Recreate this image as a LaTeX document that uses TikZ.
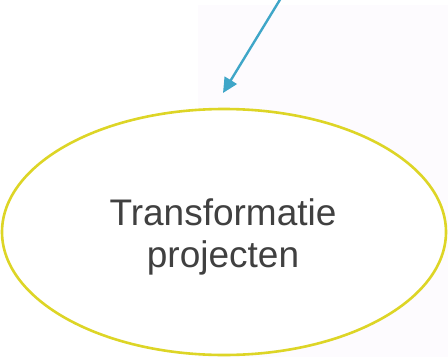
\documentclass[tikz,border=0pt]{standalone}
\usepackage{fontspec}
\setmainfont{Liberation Sans}
\usetikzlibrary{arrows.meta,shapes.geometric}
\definecolor{bgpink}{HTML}{FDFBFE}
\definecolor{ellyellow}{HTML}{DDD526}
\definecolor{arrowblue}{HTML}{3FA6C8}
\definecolor{txtgray}{HTML}{404040}
\tikzset{
  bubble/.style={draw=ellyellow, line width=2.6pt, fill=white, ellipse, minimum width=444pt, minimum height=246pt, inner sep=0pt},
  conn/.style={draw=arrowblue, line width=2.4pt, -{Triangle[length=15pt,width=14pt]}},
  lbl/.style={text=txtgray, font=\fontsize{37}{42}\selectfont, align=center}
}
\begin{document}
\begin{tikzpicture}[x=1pt,y=-1pt]
\useasboundingbox (0,0) rectangle (448,357);
\fill[bgpink] (198,5) rectangle (448,357);
\node[bubble] (e) at (224,232) {};
\node[lbl] (t) at (223,237) {Transformatie\\projecten};
\coordinate (s) at (281,-2);
\coordinate (tip) at (223,93);
\draw[conn] (s) -- (tip);
\end{tikzpicture}
\end{document}
